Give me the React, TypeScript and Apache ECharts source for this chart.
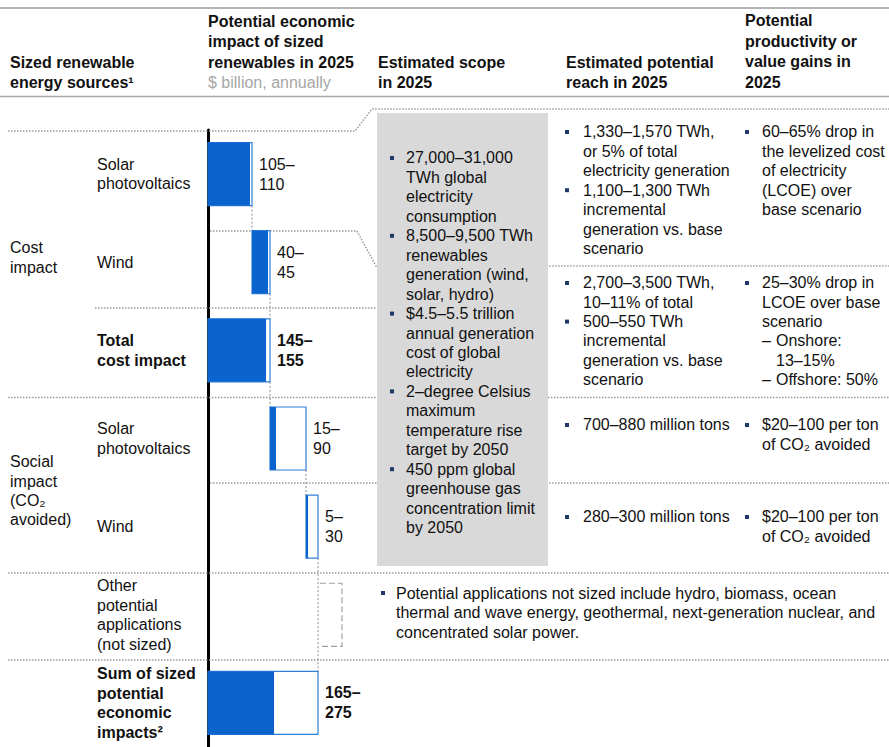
import React, { useEffect, useRef } from "react";
import * as echarts from "echarts";

const FONT = '"Liberation Sans", Arial, Helvetica, sans-serif';
const BLUE = "#0B63CE";
const OUTLINE = "#2F7FD6";
const NAVY = "#1F3A68";
const TEXT = "#111111";
const DOT = "#9a9a9a";

// ---- Data ----
const rowLabels = [
  "Solar\nphotovoltaics",
  "Wind",
  "Total\ncost impact",
  "Solar\nphotovoltaics",
  "Wind",
  "Other\npotential\napplications\n(not sized)",
  "Sum of sized\npotential\neconomic\nimpacts²",
];
const rowKinds = ["step", "step", "total", "step", "step", "unsized", "total"];
const lowValues = [105, 40, 145, 15, 5, 0, 165];
const highValues = [110, 45, 155, 90, 30, 0, 275];
const unsizedSpan = 60; // nominal width of the dashed "not sized" bracket ($ billion)

const groupLabels = ["Cost\nimpact", "Social\nimpact\n(CO₂\navoided)"];

const headers = {
  sources: "Sized renewable\nenergy sources¹",
  impact: "Potential economic\nimpact of sized\nrenewables in 2025",
  impactUnit: "$ billion, annually",
  scope: "Estimated scope\nin 2025",
  reach: "Estimated potential\nreach in 2025",
  gains: "Potential\nproductivity or\nvalue gains in\n2025",
};

const scopeItems = [
  ["27,000–31,000", "TWh global", "electricity", "consumption"],
  ["8,500–9,500 TWh", "renewables", "generation (wind,", "solar, hydro)"],
  ["$4.5–5.5 trillion", "annual generation", "cost of global", "electricity"],
  ["2–degree Celsius", "maximum", "temperature rise", "target by 2050"],
  ["450 ppm global", "greenhouse gas", "concentration limit", "by 2050"],
];

type Item = { lines: string[]; dash?: boolean };

const solarReach: Item[] = [
  { lines: ["1,330–1,570 TWh,", "or 5% of total", "electricity generation"] },
  { lines: ["1,100–1,300 TWh", "incremental", "generation vs. base", "scenario"] },
];
const solarGains: Item[] = [
  { lines: ["60–65% drop in", "the levelized cost", "of electricity", "(LCOE) over", "base scenario"] },
];
const windReach: Item[] = [
  { lines: ["2,700–3,500 TWh,", "10–11% of total"] },
  { lines: ["500–550 TWh", "incremental", "generation vs. base", "scenario"] },
];
const windGains: Item[] = [
  { lines: ["25–30% drop in", "LCOE over base", "scenario"] },
  { lines: ["Onshore:", "13–15%"], dash: true },
  { lines: ["Offshore: 50%"], dash: true },
];
const socialSolarReach: Item[] = [{ lines: ["700–880 million tons"] }];
const socialSolarGains: Item[] = [{ lines: ["$20–100 per ton", "of CO₂ avoided"] }];
const socialWindReach: Item[] = [{ lines: ["280–300 million tons"] }];
const socialWindGains: Item[] = [{ lines: ["$20–100 per ton", "of CO₂ avoided"] }];
const otherNote: Item[] = [
  {
    lines: [
      "Potential applications not sized include hydro, biomass, ocean",
      "thermal and wave energy, geothermal, next-generation nuclear, and",
      "concentrated solar power.",
    ],
  },
];

// ---- helpers ----
function textEl(text: string, x: number, firstY: number, lh: number, opts: any = {}) {
  return {
    type: "text",
    z: 5,
    x,
    y: firstY - lh / 2,
    style: {
      text,
      fontSize: 16,
      fontFamily: FONT,
      fill: opts.fill || TEXT,
      fontWeight: opts.bold ? "bold" : "normal",
      lineHeight: lh,
      verticalAlign: "top",
      align: "left",
    },
  };
}

function bulletBlock(items: Item[], bx: number, tx: number, firstY: number, lh: number) {
  const els: any[] = [];
  let y = firstY;
  items.forEach((it) => {
    if (it.dash) {
      els.push(textEl("–", tx, y, lh));
      els.push(textEl(it.lines.join("\n"), tx + 14, y, lh));
    } else {
      els.push({
        type: "rect",
        z: 5,
        shape: { x: bx - 2, y: y - 2, width: 4, height: 4 },
        style: { fill: NAVY },
      });
      els.push(textEl(it.lines.join("\n"), tx, y, lh));
    }
    y += it.lines.length * lh;
  });
  return els;
}

function dotted(points: number[][]) {
  return {
    type: "polyline",
    z: 1,
    shape: { points },
    style: { stroke: DOT, lineWidth: 1.5, lineDash: [1.5, 1.5], fill: null },
  };
}

function buildBarData() {
  const data: number[][] = [];
  let running = 0;
  let prevEnd = 0;
  rowKinds.forEach((k, i) => {
    let start = 0;
    let kind = 0;
    if (k === "total") {
      start = 0;
      running = highValues[i];
      kind = 1;
    } else if (k === "unsized") {
      start = running;
      kind = 2;
    } else {
      start = running;
      running += highValues[i];
    }
    data.push([i, start, lowValues[i], highValues[i], kind, prevEnd]);
    prevEnd = kind === 2 ? start : start + highValues[i];
  });
  return data;
}

export default function App() {
  const ref = useRef<HTMLDivElement>(null);

  useEffect(() => {
    if (!ref.current) return;
    const chart = echarts.init(ref.current, null, { renderer: "svg" });
    const barData = buildBarData();

    const graphics: any[] = [
      // header rules
      { type: "line", z: 1, shape: { x1: 0, y1: 8, x2: 889, y2: 8 }, style: { stroke: "#b5b5b5", lineWidth: 2 } },
      { type: "line", z: 1, shape: { x1: 0, y1: 96.5, x2: 889, y2: 96.5 }, style: { stroke: "#a8a8a8", lineWidth: 1.5 } },
      // headers
      textEl(headers.sources, 10, 62, 20, { bold: true }),
      textEl(headers.impact, 208, 21, 20.5, { bold: true }),
      textEl(headers.impactUnit, 208, 82, 20, { fill: "#a6a6a6" }),
      textEl(headers.scope, 378, 62, 20, { bold: true }),
      textEl(headers.reach, 566, 62, 20, { bold: true }),
      textEl(headers.gains, 745, 21, 20.4, { bold: true }),
      // dotted separators
      dotted([[8, 131], [355, 131], [372, 109], [889, 109]]),
      dotted([[210, 231], [357, 231], [376, 266], [889, 266]]),
      dotted([[95, 308], [377, 308]]),
      dotted([[8, 397.5], [889, 397.5]]),
      dotted([[210, 483], [889, 483]]),
      dotted([[8, 573], [889, 573]]),
      dotted([[8, 660], [889, 660]]),
      // scope box
      { type: "rect", z: 2, shape: { x: 377, y: 113, width: 171, height: 453 }, style: { fill: "#d9d9d9" } },
      // group labels
      textEl(groupLabels[0], 10, 247, 20),
      textEl(groupLabels[1], 10, 462, 19.3),
      ...bulletBlock(
        scopeItems.map((l) => ({ lines: l })),
        392,
        406,
        158,
        19.45
      ),
      ...bulletBlock(solarReach, 567, 583, 132, 19.4),
      ...bulletBlock(solarGains, 747, 762, 132, 19.4),
      ...bulletBlock(windReach, 567, 583, 283, 19.3),
      ...bulletBlock(windGains, 747, 762, 283, 19.3),
      ...bulletBlock(socialSolarReach, 567, 583, 425, 19.4),
      ...bulletBlock(socialSolarGains, 747, 762, 425, 19.4),
      ...bulletBlock(socialWindReach, 567, 583, 517, 19.4),
      ...bulletBlock(socialWindGains, 747, 762, 517, 19.4),
      ...bulletBlock(otherNote, 383, 396, 593, 19.5),
    ];

    const option: any = {
      animation: false,
      grid: { left: 208, top: 130, width: 680, height: 618, containLabel: false },
      xAxis: { type: "value", min: 0, max: 1700, show: false },
      yAxis: {
        type: "category",
        inverse: true,
        data: rowLabels,
        axisTick: { show: false },
        splitLine: { show: false },
        axisLine: { show: true, lineStyle: { color: "#000", width: 3 } },
        axisLabel: {
          interval: 0,
          align: "left",
          margin: 111,
          fontSize: 16,
          lineHeight: 19.5,
          fontFamily: FONT,
          color: TEXT,
          formatter: (v: string, i: number) =>
            rowKinds[i] === "total"
              ? v
                  .split("\n")
                  .map((l) => `{b|${l}}`)
                  .join("\n")
              : v,
          rich: {
            b: { fontWeight: "bold", fontSize: 16, lineHeight: 19.5, fontFamily: FONT, color: TEXT },
          },
        },
      },
      graphic: { elements: graphics },
      series: [
        {
          type: "custom",
          z: 3,
          encode: { x: [1, 3], y: 0 },
          data: barData,
          renderItem: (params: any, api: any) => {
            const idx = api.value(0);
            const start = api.value(1);
            const low = api.value(2);
            const high = api.value(3);
            const kind = api.value(4);
            const prevEnd = api.value(5);
            const band = api.size([0, 1])[1];
            const barH = band * 0.715;
            const p0 = api.coord([start, idx]);
            const x0 = p0[0];
            const cy = p0[1];
            const top = cy - barH / 2;
            const bot = cy + barH / 2;
            const children: any[] = [];
            if (idx > 0) {
              const xc = api.coord([prevEnd, idx])[0];
              const prevBot = cy - band + barH / 2;
              children.push({
                type: "line",
                shape: { x1: xc, y1: prevBot, x2: xc, y2: kind === 2 ? bot : top },
                style: { stroke: "#8c8c8c", lineWidth: 1, lineDash: [2, 2] },
              });
            }
            if (kind === 2) {
              const x1 = api.coord([start + unsizedSpan, idx])[0];
              children.push({
                type: "polyline",
                shape: { points: [[x0 + 2, top], [x1, top], [x1, bot], [x0 + 2, bot]] },
                style: { stroke: "#a0a0a0", lineWidth: 1.2, lineDash: [6, 3], fill: null },
              });
            } else {
              const xLow = api.coord([start + low, idx])[0];
              const xHigh = api.coord([start + high, idx])[0];
              children.push({
                type: "rect",
                shape: { x: x0, y: top, width: xHigh - x0, height: barH },
                style: { fill: "#ffffff", stroke: OUTLINE, lineWidth: 1.2 },
              });
              children.push({
                type: "rect",
                shape: { x: x0, y: top, width: xLow - x0, height: barH },
                style: { fill: BLUE },
              });
              children.push({
                type: "text",
                x: xHigh + 7,
                y: cy,
                style: {
                  text: `${low}–\n${high}`,
                  fontSize: 16,
                  fontFamily: FONT,
                  fontWeight: kind === 1 ? "bold" : "normal",
                  fill: TEXT,
                  lineHeight: 20,
                  align: "left",
                  verticalAlign: "middle",
                },
              });
            }
            return { type: "group", children };
          },
        },
      ],
    };

    chart.setOption(option);
    return () => chart.dispose();
  }, []);

  return (
    <div
      ref={ref}
      style={{ position: "absolute", left: 0, top: 0, width: 889, height: 747, background: "#fff" }}
    />
  );
}
